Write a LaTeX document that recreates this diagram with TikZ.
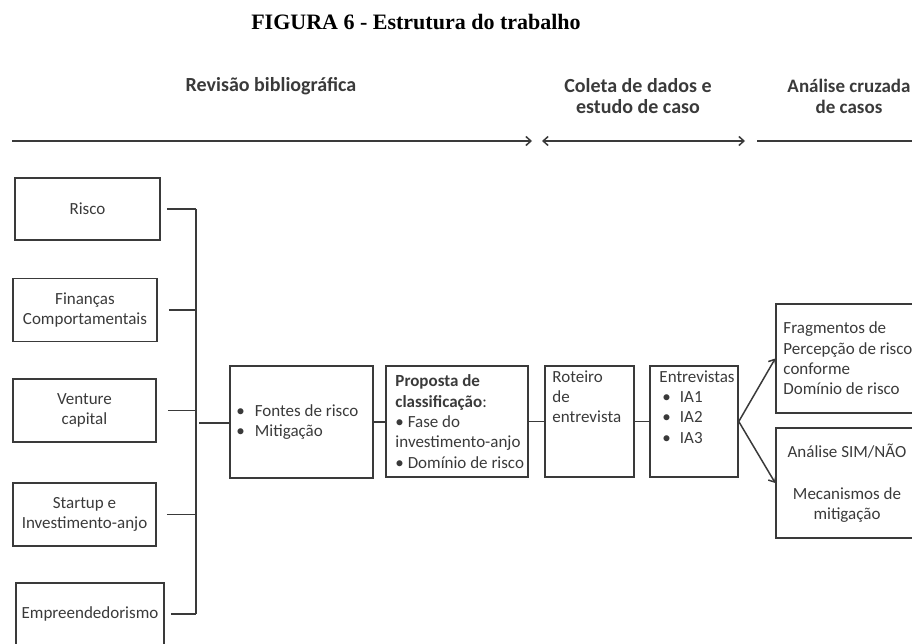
\documentclass[tikz,border=0pt]{standalone}
\usepackage{fontspec}
\setmainfont{Carlito}
\newfontfamily\titlefont{Liberation Serif}
\usetikzlibrary{arrows.meta}
\definecolor{ink}{HTML}{3A3A3A}
\newcommand{\bodyfont}{\fontsize{17}{20.3}\selectfont}
\newcommand{\headfont}{\fontsize{20}{21}\selectfont\bfseries}
\tikzset{
  box/.style={draw=ink, line width=1.5pt, inner sep=0pt, font=\bodyfont, text=ink, align=center},
  txt/.style={inner sep=0pt, font=\bodyfont, text=ink, align=left},
  head/.style={inner sep=0pt, font=\headfont, text=ink, align=center},
  wire/.style={draw=ink, line width=1.5pt},
  >={Straight Barb[length=5pt,width=9pt]}
}
\begin{document}
\begin{tikzpicture}[x=1pt,y=-1pt]
  \useasboundingbox (0,0) rectangle (912,643);
  \node[inner sep=0pt, font=\titlefont\bfseries\fontsize{22}{24}\selectfont] (title) at (416,22) {FIGURA 6 - Estrutura do trabalho};
  \node[head] (hrev) at (271,86) {Revisão bibliográfica};
  \node[head] (hcol) at (638,96.5) {Coleta de dados e\\estudo de caso};
  \node[head, font=\fontsize{19}{21}\selectfont\bfseries] (hana) at (849,96.5) {Análise cruzada\\de casos};
  \coordinate (t0) at (12,141);
  \coordinate (t1) at (532,141);
  \coordinate (t2) at (542,141);
  \coordinate (t3) at (745,141);
  \coordinate (t4) at (757,141);
  \coordinate (t5) at (912,141);
  \draw[wire,->] (t0) -- (t1);
  \draw[wire,<->] (t2) -- (t3);
  \draw[wire] (t4) -- (t5);

  \node[box, minimum width=145pt, minimum height=62pt] (risco) at (87.5,209) {Risco};
  \node[box, minimum width=144pt, minimum height=63pt] (financas) at (85,310) {Finanças\\Comportamentais};
  \node[box, minimum width=143pt, minimum height=63pt] (venture) at (84.5,410.5) {Venture\\capital};
  \node[box, minimum width=143pt, minimum height=63pt] (startup) at (84.5,514.5) {Startup e\\Investimento-anjo};
  \node[box, minimum width=148pt, minimum height=62pt] (empre) at (90,614) {Empreendedorismo};
  \coordinate (bus) at (196,423);

  \node[box, minimum width=143pt, minimum height=112pt] (fontes) at (301.5,422) {};
  \node[txt, anchor=west] (fontestxt) at ([xshift=7pt]fontes.west) {\textbullet\hspace{10pt}Fontes de risco\\\textbullet\hspace{10pt}Mitigação};
  \node[box, minimum width=142pt, minimum height=111pt] (proposta) at (457,421.5) {};
  \node[txt, anchor=west] (propostatxt) at ([xshift=10pt]proposta.west) {\textbf{Proposta de}\\\textbf{classificação}:\\\textbullet{} Fase do\\investimento-anjo\\\textbullet{} Domínio de risco};
  \node[box, minimum width=89pt, minimum height=111pt] (roteiro) at (589.5,421.5) {};
  \node[txt, anchor=north west] (roteirotxt) at ([xshift=8pt,yshift=-5pt]roteiro.north west) {Roteiro\\de\\entrevista};
  \node[box, minimum width=88pt, minimum height=111pt] (entrev) at (694,421.5) {};
  \node[txt, anchor=north west] (entrevtxt) at ([xshift=10pt,yshift=-5pt]entrev.north west) {Entrevistas\\\hspace*{3pt}\textbullet\hspace{9pt}IA1\\\hspace*{3pt}\textbullet\hspace{9pt}IA2\\\hspace*{3pt}\textbullet\hspace{9pt}IA3};
  \node[box, minimum width=142pt, minimum height=109pt] (frag) at (847,358.5) {};
  \node[txt, anchor=west] (fragtxt) at ([xshift=8pt]frag.west) {Fragmentos de\\Percepção de risco\\conforme\\Domínio de risco};
  \node[box, minimum width=142pt, minimum height=110pt] (analise) at (847,483) {Análise SIM/NÃO\\[22pt]Mecanismos de\\mitigação};

  \begin{scope}[wire]
    \draw ([xshift=6pt]risco.east) -- (risco.east -| bus);
    \draw ([xshift=11pt]financas.east) -- (financas.east -| bus);
    \draw ([xshift=11pt]venture.east) -- (venture.east -| bus);
    \draw ([xshift=10pt]startup.east) -- (startup.east -| bus);
    \draw ([xshift=6pt]empre.east) -- (empre.east -| bus);
    \draw (risco.east -| bus) -- (empre.east -| bus);
    \draw ([xshift=3pt]bus) -- (bus -| fontes.west);
    \draw (fontes.east) -- (fontes.east -| proposta.west);
    \draw (proposta.east) -- (proposta.east -| roteiro.west);
    \draw (roteiro.east) -- (roteiro.east -| entrev.west);
    \draw[->] (entrev.east) -- (frag.west);
    \draw[->] (entrev.east) -- (analise.west);
  \end{scope}
\end{tikzpicture}
\end{document}
